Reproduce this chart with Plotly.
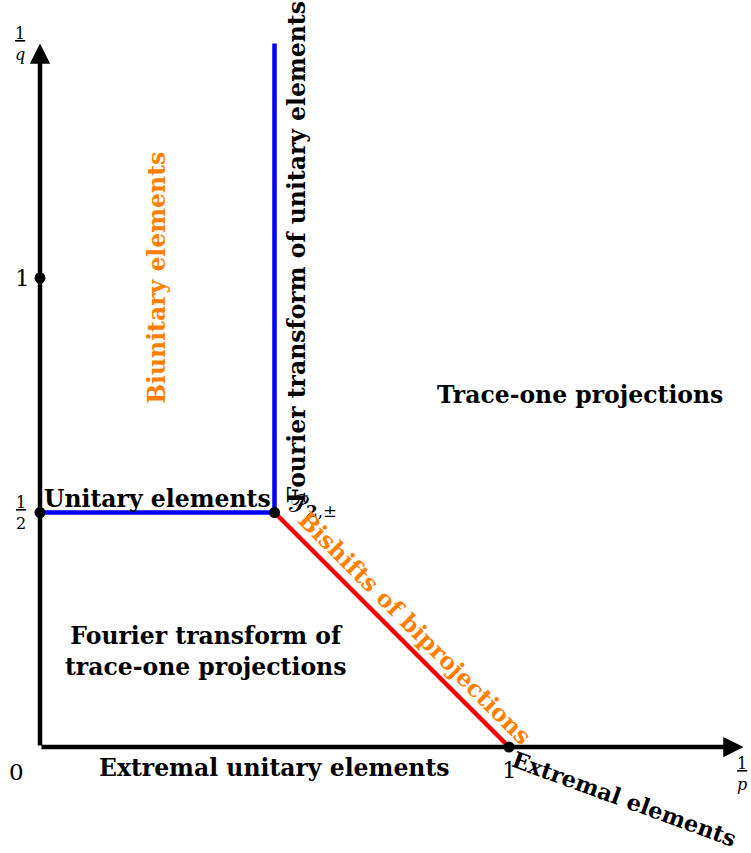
import plotly.graph_objects as go

# ---- data ----
axis_max = 1.5
points_x = [0, 0, 0.5, 1]
points_y = [1, 0.5, 0.5, 0]
blue_x = [0, 0.5, 0.5]
blue_y = [0.5, 0.5, 1.5]
red_x = [0.5, 1]
red_y = [0.5, 0]

SERIF = "DejaVu Serif"
ORANGE = "#ff8000"

fig = go.Figure()

# region boundaries
fig.add_trace(go.Scatter(x=blue_x, y=blue_y, mode="lines",
                         line=dict(color="#0000ff", width=4.5), hoverinfo="skip"))
fig.add_trace(go.Scatter(x=red_x, y=red_y, mode="lines",
                         line=dict(color="#ff0000", width=4.5), hoverinfo="skip"))

# axes as arrows
for (x1, y1) in [(axis_max, 0), (0, axis_max)]:
    fig.add_annotation(x=x1, y=y1, ax=0, ay=0, xref="x", yref="y", axref="x", ayref="y",
                       showarrow=True, arrowhead=2, arrowsize=0.9, arrowwidth=4.5,
                       arrowcolor="black", text="")

# points
fig.add_trace(go.Scatter(x=points_x, y=points_y, mode="markers",
                         marker=dict(color="black", size=11), hoverinfo="skip"))


def label(x, y, text, size=23.5, color="black", angle=0, bold=True, xanchor="center", yanchor="middle"):
    t = f"<b>{text}</b>" if bold else text
    fig.add_annotation(x=x, y=y, xref="x", yref="y", text=t, showarrow=False,
                       textangle=angle, xanchor=xanchor, yanchor=yanchor,
                       font=dict(family=SERIF, size=size, color=color))


label(0.25, 0.529, "Unitary elements")
label(0.526, 0.516, "𝒫<sub><b>2</b>,±</sub>", bold=False, xanchor="left", size=24)
label(0.548, 1.055, "Fourier transform of unitary elements", angle=-90)
label(0.249, 1.0, "Biunitary elements", angle=-90, color=ORANGE)
label(1.151, 0.7505, "Trace-one projections")
label(0.352, 0.2047, "Fourier transform of<br>trace-one projections")
label(0.799, 0.254, "Bishifts of biprojections", angle=45, color=ORANGE)
label(0.501, -0.0448, "Extremal unitary elements")
label(1.246, -0.111, "Extremal elements", angle=20, size=22.5)

# tick-like labels
label(1.0, -0.049, "1", bold=False, size=23)
label(-0.051, -0.053, "0", bold=False, size=23)
label(-0.038, 1.0, "1", bold=False, size=23)
label(-0.04, 0.5, "<u>1</u><br>2", bold=False, size=16)
label(-0.043, 1.50, "<u>1</u><br><i>q</i>", bold=False, size=16)
label(1.497, -0.058, "<u>1</u><br><i>p</i>", bold=False, size=16)

fig.update_layout(
    width=751, height=853,
    margin=dict(l=0, r=0, t=0, b=0),
    paper_bgcolor="white", plot_bgcolor="white",
    showlegend=False,
    xaxis=dict(range=[-40 / 469, 711 / 469], visible=False, fixedrange=True),
    yaxis=dict(range=[-106 / 469, 747 / 469], visible=False, fixedrange=True),
)

fig.write_html("out.html", config={"displayModeBar": False},
               post_script="document.body.style.margin='0';document.body.style.overflow='hidden';")
